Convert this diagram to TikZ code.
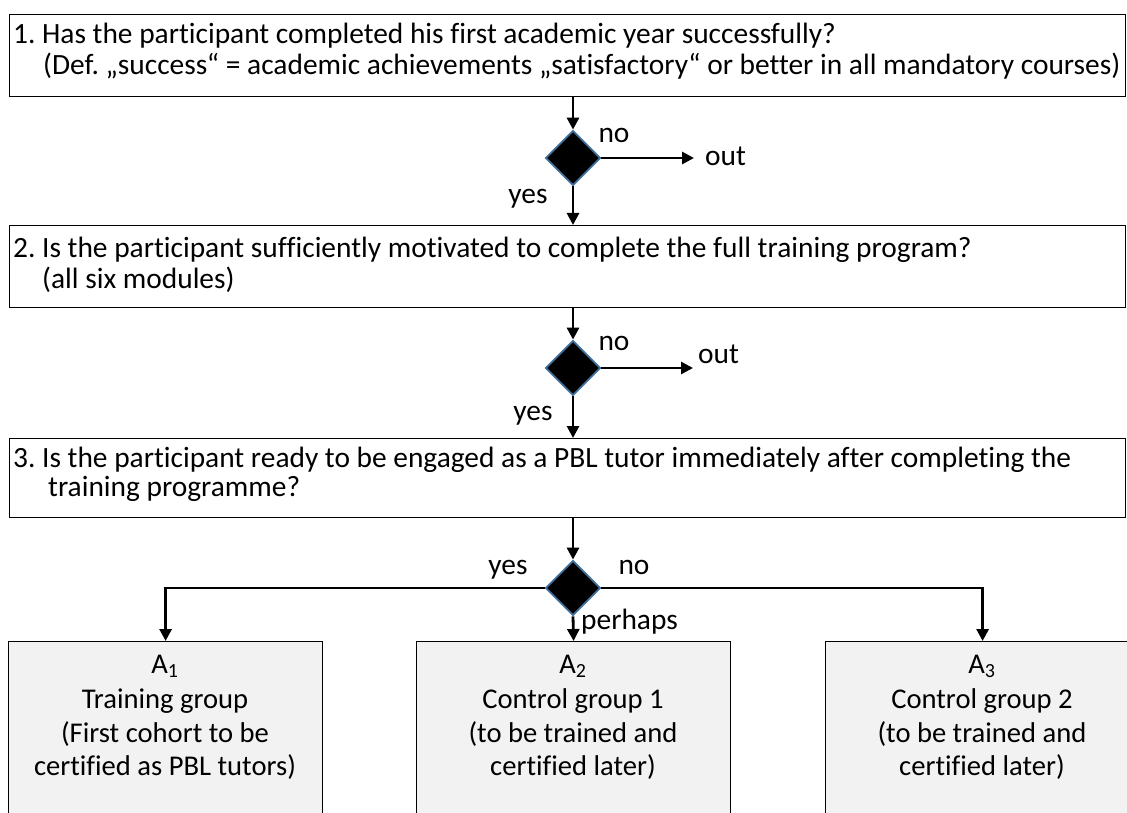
\documentclass[tikz,border=0pt]{standalone}
\usepackage{fontspec}
\setmainfont{Carlito}[Ligatures=NoCommon]
\usetikzlibrary{shapes.geometric,arrows.meta}
\definecolor{diaedge}{HTML}{41719C}
\definecolor{boxfill}{HTML}{F2F2F2}
\frenchspacing
\begin{document}
\begin{tikzpicture}[x=1pt,y=-1pt,
  qbox/.style={draw=black, line width=1.2pt, inner sep=0pt, anchor=north west,
    minimum width=1116pt},
  gbox/.style={draw=black, line width=1.2pt, fill=boxfill, inner sep=0pt,
    anchor=north west, minimum width=314pt, minimum height=220pt},
  dec/.style={diamond, fill=black, draw=diaedge, line width=1.8pt,
    minimum width=55pt, minimum height=55pt, inner sep=0pt},
  flow/.style={line width=2.8pt, -{Triangle[length=12pt,width=12pt]}},
  qtext/.style={anchor=base west, inner sep=0pt, font=\fontsize{29.4}{34}\selectfont},
  lbl/.style={anchor=base, inner sep=0pt, font=\fontsize{29.4}{34}\selectfont},
  gtext/.style={anchor=base, inner sep=0pt, font=\fontsize{28.6}{34}\selectfont}]
\useasboundingbox (0,0) rectangle (1127,813);
\clip (0,0) rectangle (1127,813);

% question boxes
\node[qbox, minimum height=82pt] (box1) at (9,14) {};
\node[qbox, minimum height=82pt] (box2) at (9,225) {};
\node[qbox, minimum height=79pt] (box3) at (9,438) {};

\node[qtext] (q1a) at (13,44) {1. Has the participant completed his first academic year successfully?};
\node[qtext] (q1b) at (43,75) {(Def. „success“ = academic achievements „satisfactory“ or better in all mandatory courses)};
\node[qtext] (q2a) at (13,257) {2. Is the participant sufficiently motivated to complete the full training program?};
\node[qtext] (q2b) at (42,288) {(all six modules)};
\node[qtext] (q3a) at (13,467) {3. Is the participant ready to be engaged as a PBL tutor immediately after completing the};
\node[qtext] (q3b) at (48,496) {training programme?};

% decisions
\node[dec] (dia1) at (573,158) {};
\node[dec] (dia2) at (573,368) {};
\node[dec] (dia3) at (573,588) {};

% group boxes
\node[gbox] (ga) at (8,641) {};
\node[gbox] (gb) at (416,641) {};
\node[gbox] (gc) at (825,641) {};

\node[gtext] (ga1) at (165,673) {A\textsubscript{1}};
\node[gtext] (ga2) at (165,708) {Training group};
\node[gtext] (ga3) at (165,742) {(First cohort to be};
\node[gtext] (ga4) at (165,775) {certified as PBL tutors)};
\node[gtext] (gb1) at (573,673) {A\textsubscript{2}};
\node[gtext] (gb2) at (573,708) {Control group 1};
\node[gtext] (gb3) at (573,742) {(to be trained and};
\node[gtext] (gb4) at (573,775) {certified later)};
\node[gtext] (gc1) at (982,673) {A\textsubscript{3}};
\node[gtext] (gc2) at (982,708) {Control group 2};
\node[gtext] (gc3) at (982,742) {(to be trained and};
\node[gtext] (gc4) at (982,775) {certified later)};

% exits
\node[lbl, anchor=base west, inner xsep=11pt] (out1) at (694,166) {out};
\node[lbl, anchor=base west, inner xsep=5pt] (out2) at (693,363) {out};
\coordinate (out2tip) at (693,368);

% branch labels
\node[lbl] (no1) at (614,143) {no};
\node[lbl] (yes1) at (528,204) {yes};
\node[lbl] (no2) at (614,350) {no};
\node[lbl] (yes2) at (533,420) {yes};
\node[lbl] (yes3) at (508,574) {yes};
\node[lbl] (no3) at (634,574) {no};
\node[lbl, anchor=base west] (maybe3) at (581,629) {perhaps};

% connectors
\draw[flow] (box1.south -| dia1) -- (dia1.north);
\draw[flow] (dia1.south) -- (box2.north -| dia1);
\draw[flow] (dia1.east) -- (dia1.east -| out1.west);
\draw[flow] (box2.south -| dia2) -- (dia2.north);
\draw[flow] (dia2.south) -- (box3.north -| dia2);
\draw[flow] (dia2.east) -- (out2tip);
\draw[flow] (box3.south -| dia3) -- (dia3.north);
\draw[flow] (dia3.west) -| (ga.north);
\draw[flow] (dia3.south) -- (gb.north);
\draw[flow] (dia3.east) -| (gc.north);
\end{tikzpicture}
\end{document}
